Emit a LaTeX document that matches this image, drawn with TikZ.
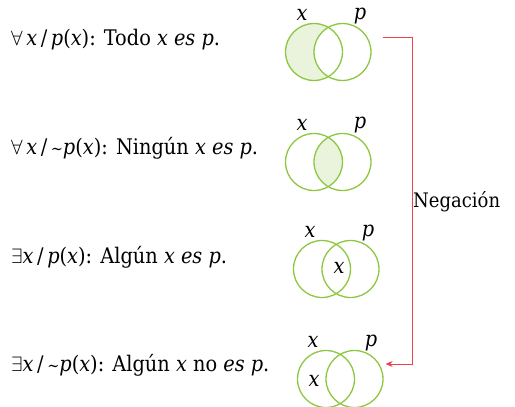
\documentclass[tikz,border=0pt]{standalone}
\usepackage{fontspec}
\setmainfont{DejaVu Serif Condensed}
\usetikzlibrary{arrows.meta}
\definecolor{vgreen}{RGB}{141,198,63}
\definecolor{vfill}{RGB}{234,244,221}
\definecolor{vred}{RGB}{236,66,78}
\newcommand{\mytil}{{\fontsize{16}{16}\selectfont\textasciitilde}}
\begin{document}
\begin{tikzpicture}[x=1pt,y=-1pt,
  venn/.style={circle,draw=vgreen,line width=1.3pt,minimum size=57pt,inner sep=0pt},
  stmt/.style={anchor=west,inner sep=0pt,font=\fontsize{21.5}{25}\selectfont},
  setlab/.style={inner sep=0pt,font=\fontsize{21.5}{25}\selectfont\itshape},
  neg/.style={draw=vred,line width=1pt,-{Stealth[length=7pt,width=6pt]}}]
\useasboundingbox (0,0) rectangle (515,407);
% fills
\fill[vfill] (314,52) circle (28.5pt);
\fill[white] (342.5,52) circle (28.5pt);
\begin{scope}
\clip (314,162) circle (28.5pt);
\fill[vfill] (342.5,162) circle (28.5pt);
\end{scope}
% diagram 1
\node[venn] (a1) at (314,52) {};
\node[venn] (b1) at (342.5,52) {};
\node[setlab] (ax1) at (302,15) {x};
\node[setlab] (ap1) at (360,16) {p};
% diagram 2
\node[venn] (a2) at (314,162) {};
\node[venn] (b2) at (342.5,162) {};
\node[setlab] (ax2) at (302,125) {x};
\node[setlab] (ap2) at (360,125) {p};
% diagram 3
\node[venn] (a3) at (322,269) {};
\node[venn] (b3) at (350.5,269) {};
\node[setlab] (ax3) at (310,232) {x};
\node[setlab] (ap3) at (368,233) {p};
\node[setlab] (in3) at (339,268) {x};
% diagram 4
\node[venn] (a4) at (326,379) {};
\node[venn] (b4) at (354.5,379) {};
\node[setlab] (ax4) at (313,342) {x};
\node[setlab] (ap4) at (371,343) {p};
\node[setlab] (in4) at (314,381) {x};
% statements
\node[stmt] (s1) at (11,40) {$\forall$\,\textit{x}\,/\,\textit{p}(\textit{x}): Todo \textit{x es p}.};
\node[stmt] (s2) at (11,148) {$\forall$\,\textit{x}\,/\,\mytil\textit{p}(\textit{x}): Ningún \textit{x es p}.};
\node[stmt] (s3) at (11,257) {$\exists$\textit{x}\,/\,\textit{p}(\textit{x}): Algún \textit{x es p}.};
\node[stmt] (s4) at (11,365) {$\exists$\textit{x}\,/\,\mytil\textit{p}(\textit{x}): Algún \textit{x} no \textit{es p}.};
% negation arrow
\coordinate (st) at (383,37);
\coordinate (en) at ([xshift=2pt]b4.east |- 0,364);
\draw[neg] (st) -- (412,37) |- (en);
\node[anchor=west,inner sep=0pt,font=\fontsize{20}{24}\selectfont] (lab) at (413,202) {Negación};
\end{tikzpicture}
\end{document}
